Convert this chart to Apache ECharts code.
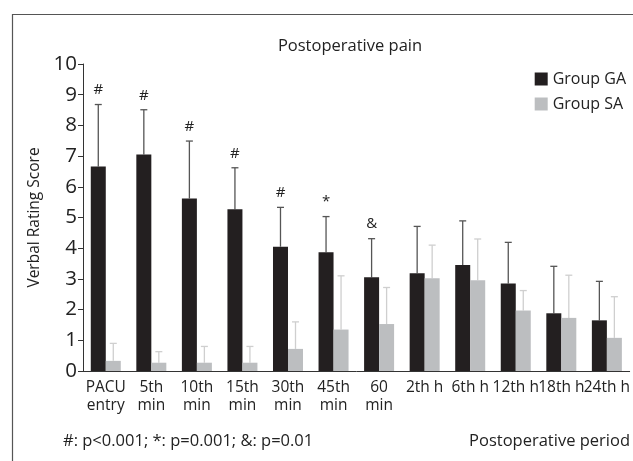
<!DOCTYPE html>
<html>
<head>
<meta charset="utf-8">
<script src="https://cdn.jsdelivr.net/npm/echarts@6/dist/echarts.min.js"></script>
<style>html,body{margin:0;padding:0;background:#fff;}#c{width:633px;height:461px;}</style>
</head>
<body>
<div id="c"></div>
<script>
var categories = ['PACU\nentry','5th\nmin','10th\nmin','15th\nmin','30th\nmin','45th\nmin','60\nmin','2th h','6th h','12th h','18th h','24th h'];
var gaMean = [6.66, 7.05, 5.62, 5.27, 4.05, 3.87, 3.05, 3.18, 3.45, 2.85, 1.88, 1.65];
var gaSd   = [2.02, 1.46, 1.87, 1.35, 1.28, 1.16, 1.26, 1.53, 1.44, 1.34, 1.53, 1.27];
var saMean = [0.33, 0.27, 0.27, 0.27, 0.72, 1.35, 1.53, 3.02, 2.96, 1.97, 1.73, 1.08];
var saSd   = [0.57, 0.36, 0.53, 0.53, 0.88, 1.75, 1.19, 1.08, 1.34, 0.65, 1.39, 1.34];
var marks  = ['#','#','#','#','#','*','&','','','','',''];
var yTicks = [0,1,2,3,4,5,6,7,8,9,10];

var FONT = 'Open Sans';
var chart = echarts.init(document.getElementById('c'));

function errSeries(name, means, sds, dx, color, labels) {
  var data = means.map(function(m, i){ return [i, m, m + sds[i], labels ? labels[i] : '']; });
  return {
    type: 'custom',
    name: name + ' err',
    z: 1,
    silent: true,
    data: data,
    encode: {x: 0, y: [1, 2]},
    renderItem: function(params, api) {
      var i = api.value(0);
      var p0 = api.coord([i, api.value(1)]);
      var p1 = api.coord([i, api.value(2)]);
      var x = p0[0] + dx;
      var children = [
        {type: 'line', shape: {x1: x, y1: p0[1], x2: x, y2: p1[1]}, style: {stroke: color, lineWidth: 1.3}},
        {type: 'line', shape: {x1: x - 3.5, y1: p1[1], x2: x + 3.5, y2: p1[1]}, style: {stroke: color, lineWidth: 1.3}}
      ];
      var lab = data[params.dataIndex][3];
      if (lab) {
        children.push({type: 'text', style: {text: lab, x: x, y: p1[1] - 7, textAlign: 'center', textVerticalAlign: 'bottom', fontFamily: FONT, fontSize: 15, fill: '#222'}});
      }
      return {type: 'group', children: children};
    }
  };
}

chart.setOption({
  animation: false,
  backgroundColor: '#fff',
  title: {text: 'Postoperative pain', left: 345, top: 33, textAlign: 'center',
    textStyle: {fontFamily: FONT, fontSize: 16.5, fontWeight: 'normal', color: '#222'}},
  legend: {
    right: 2, top: 66, orient: 'vertical', itemWidth: 13, itemHeight: 13, itemGap: 9,
    icon: 'rect',
    data: ['Group GA', 'Group SA'],
    textStyle: {fontFamily: FONT, fontSize: 16, color: '#222'}
  },
  graphic: [
    {type: 'rect', shape: {x: 12.5, y: 14.5, width: 800, height: 600}, style: {fill: 'none', stroke: '#555', lineWidth: 1.2}, silent: true},
    {type: 'text', left: 63, top: 433, style: {text: '#: p<0.001; *: p=0.001; &: p=0.01', fontFamily: FONT, fontSize: 16.5, fill: '#222'}},
    {type: 'text', right: 3, top: 433, style: {text: 'Postoperative period', fontFamily: FONT, fontSize: 16.5, fill: '#222'}}
  ],
  grid: {left: 83, right: 3, top: 64, bottom: 90},
  xAxis: {
    type: 'category', data: categories,
    axisLine: {lineStyle: {color: '#333', width: 1}},
    axisTick: {length: 6, lineStyle: {color: '#333'}},
    axisLabel: {interval: 0, hideOverlap: false, fontFamily: FONT, fontSize: 15.5, color: '#222', lineHeight: 18, margin: 8}
  },
  yAxis: {
    type: 'value', min: yTicks[0], max: yTicks[yTicks.length - 1], interval: 1,
    name: 'Verbal Rating Score', nameLocation: 'middle', nameGap: 40,
    nameTextStyle: {fontFamily: FONT, fontSize: 15.5, color: '#222'},
    axisLine: {show: true, lineStyle: {color: '#333', width: 1}},
    axisTick: {show: true, length: 5, lineStyle: {color: '#333'}},
    axisLabel: {fontFamily: FONT, fontSize: 20.5, color: '#222', margin: 6},
    splitLine: {show: false}
  },
  series: [
    {type: 'bar', name: 'Group GA', data: gaMean, barWidth: 15, barGap: '0%', itemStyle: {color: '#231f20'}, z: 2},
    {type: 'bar', name: 'Group SA', data: saMean, barWidth: 15, barGap: '0%', itemStyle: {color: '#bcbec0'}, z: 2},
    errSeries('Group GA', gaMean, gaSd, -7.5, '#555', marks),
    errSeries('Group SA', saMean, saSd, 7.5, '#cfcfcf', null)
  ]
});
</script>
</body>
</html>
